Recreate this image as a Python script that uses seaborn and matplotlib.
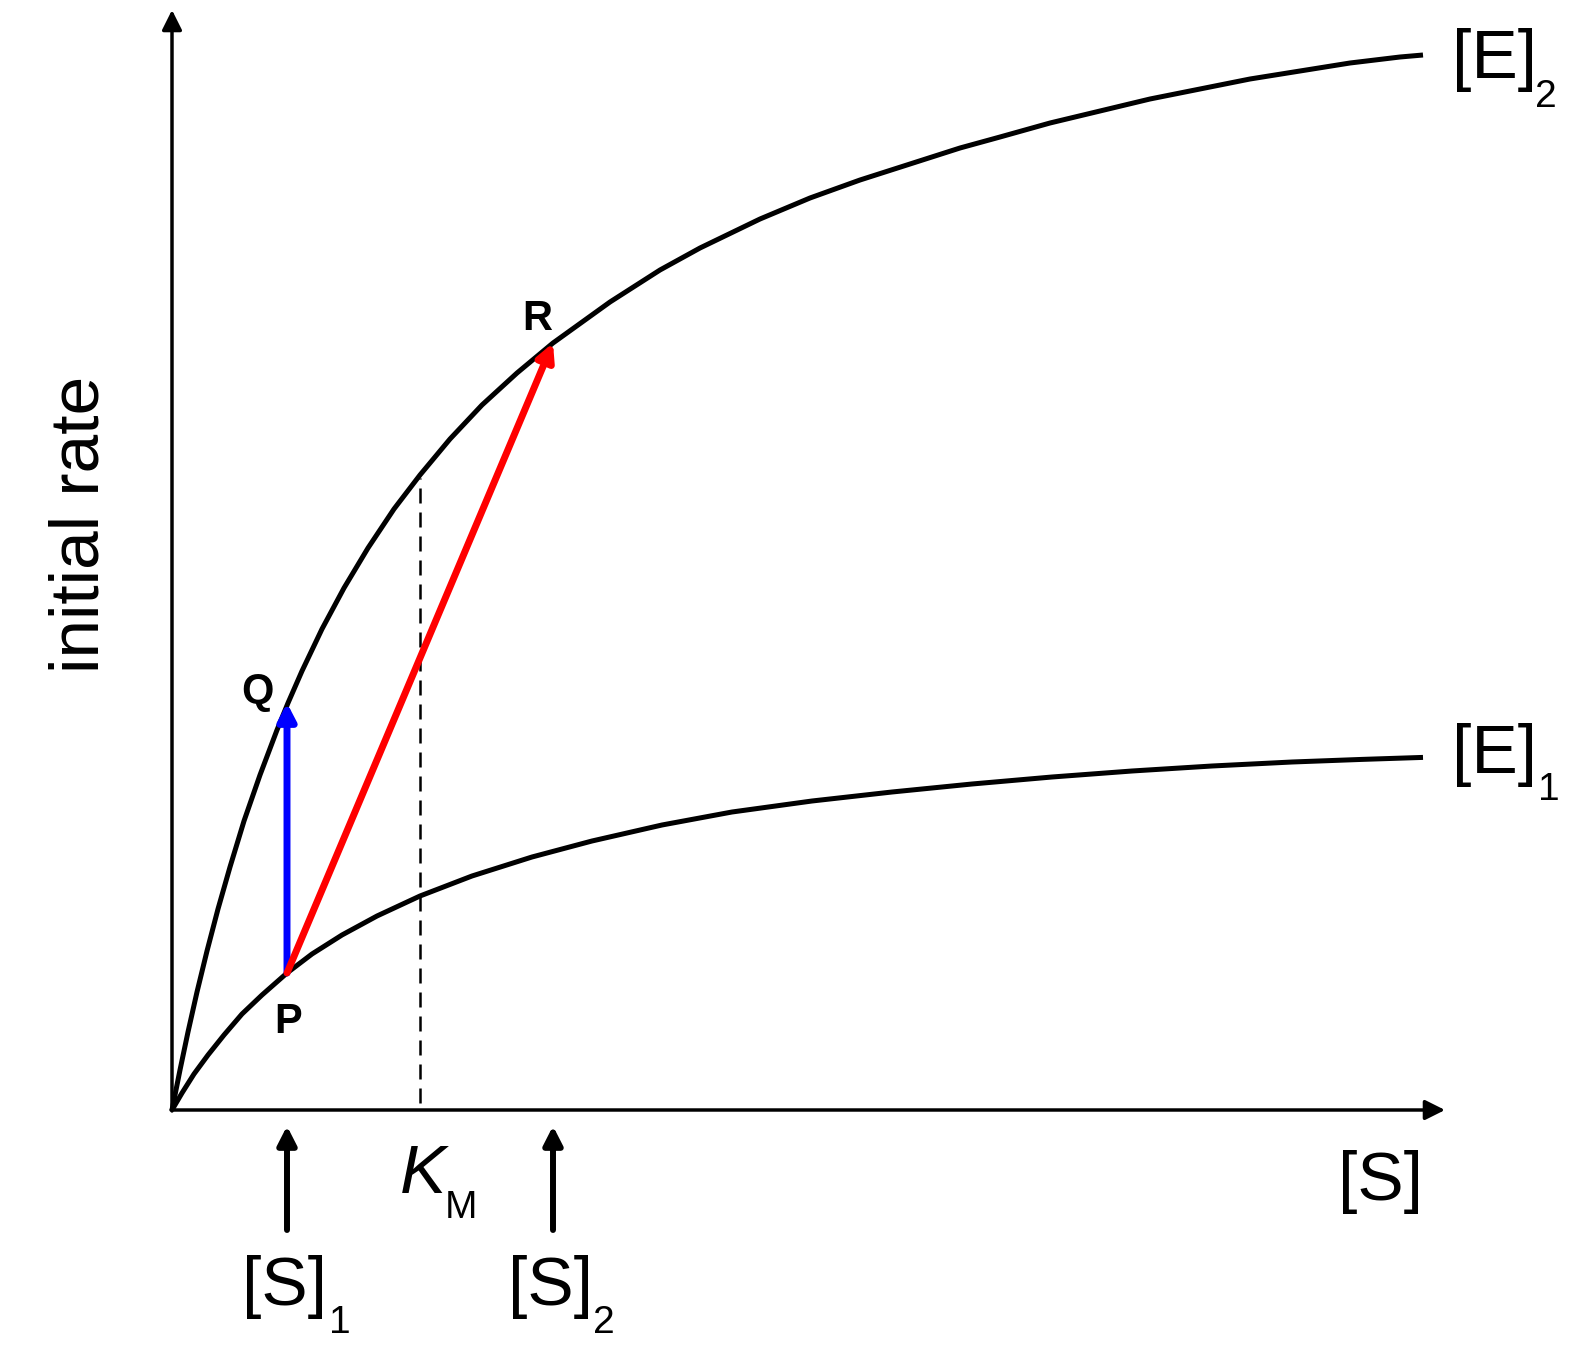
import numpy as np
import pandas as pd
import matplotlib
matplotlib.use('Agg')
import matplotlib.pyplot as plt
import seaborn as sns

# 讀值 (單位: 參考圖上的像素, 原點在兩軸交點)
e2_s = [0, 8, 16, 25, 35, 46, 58, 72, 88, 105, 116, 130, 150, 172, 196, 222, 248,
        278, 310, 345, 381, 438, 488, 528, 588, 638, 688, 738, 788, 828, 878, 928,
        978, 1028, 1078, 1128, 1178, 1228, 1251]
e2_v = [0, 40, 78, 118, 159, 201, 243, 289, 335, 380, 407, 439, 481, 522, 562, 601, 635,
        671, 705, 737, 767, 808, 840, 862, 891, 912, 930, 946, 962, 973, 987, 999,
        1011, 1021, 1031, 1039, 1047, 1053, 1055]

e1_s = [0, 10, 22, 36, 52, 70, 90, 115, 140, 170, 205, 248, 300, 360, 420, 490,
        560, 640, 720, 800, 880, 960, 1040, 1120, 1190, 1251]
e1_v = [0, 17, 36, 55, 75, 96, 115, 137, 156, 175, 194, 214, 234, 253, 269, 285,
        298, 309, 318, 326, 333, 339, 344, 348, 350.6, 352.6]

s1 = 115      # [S]1
s2 = 381      # [S]2
km = 248      # K_M
v_p = 137     # P  (E1 at s1)
v_q = 407     # Q  (E2 at s1)
v_r = 767     # R  (E2 at s2)
km_top = 632  # E2 at K_M

df = pd.DataFrame({
    's': e2_s + e1_s,
    'v': e2_v + e1_v,
    'curve': ['E2'] * len(e2_s) + ['E1'] * len(e1_s),
})

sns.set_style('white')
plt.rcParams['font.family'] = ['Liberation Sans', 'DejaVu Sans']
plt.rcParams['text.color'] = 'black'

fig = plt.figure(figsize=(15.85, 13.67), dpi=100)
ax = fig.add_axes([0, 0, 1, 1])

# 曲線
sns.lineplot(data=df, x='s', y='v', units='curve', estimator=None, sort=False,
             color='black', linewidth=3.6, solid_capstyle='butt',
             solid_joinstyle='round', ax=ax, zorder=2)

# 座標軸 (箭頭)
axis_arrow = dict(arrowstyle='-|>,head_length=0.6,head_width=0.3', color='black',
                  lw=2.5, shrinkA=0, shrinkB=0, mutation_scale=20)
ax.annotate('', xy=(0, 1100), xytext=(0, -1), arrowprops=axis_arrow)
ax.annotate('', xy=(1273, 0), xytext=(-1, 0), arrowprops=axis_arrow)

# K_M 虛線
ax.plot([km, km], [7, km_top], color='black', lw=1.8,
        linestyle=(0, (6, 3.6)), zorder=1)

# P -> Q, P -> R
ab = dict(arrowstyle='-|>,head_length=0.5,head_width=0.26', lw=5,
          shrinkA=0, shrinkB=0, mutation_scale=20)
ax.annotate('', xy=(s1, v_q), xytext=(s1, v_p),
            arrowprops=dict(ab, color='#0000ff'), zorder=3)
ax.annotate('', xy=(s2, v_r), xytext=(s1, v_p),
            arrowprops=dict(ab, color='#ff0000'), zorder=4)

# [S]1, [S]2 下方箭頭
ua = dict(arrowstyle='-|>,head_length=0.55,head_width=0.28', color='black',
          lw=4.3, shrinkA=0, shrinkB=0, mutation_scale=20)
for s in [s1, s2]:
    ax.annotate('', xy=(s, -16), xytext=(s, -120), arrowprops=ua)

# 文字
fs, fsub, fpt = 50, 28, 30
ax.text(-92, 586, 'initial rate', rotation=90, ha='center', va='center', fontsize=fs)
ax.text(1166, -90, '[S]', ha='left', va='baseline', fontsize=fs)
ax.text(1280, 1032, '[E]', ha='left', va='baseline', fontsize=fs)
ax.text(1363, 1003, '2', ha='left', va='baseline', fontsize=fsub)
ax.text(1280, 337, '[E]', ha='left', va='baseline', fontsize=fs)
ax.text(1366, 310, '1', ha='left', va='baseline', fontsize=fsub)
ax.text(70, -195, '[S]', ha='left', va='baseline', fontsize=fs)
ax.text(157, -223, '1', ha='left', va='baseline', fontsize=fsub)
ax.text(336, -195, '[S]', ha='left', va='baseline', fontsize=fs)
ax.text(421, -223, '2', ha='left', va='baseline', fontsize=fsub)
ax.text(228, -83, 'K', ha='left', va='baseline', fontsize=fs, fontstyle='italic')
ax.text(273, -108, 'M', ha='left', va='baseline', fontsize=fsub)

ax.text(116, 77, 'P', ha='center', va='baseline', fontsize=fpt, fontweight='bold')
ax.text(85, 407, 'Q', ha='center', va='baseline', fontsize=fpt, fontweight='bold')
ax.text(365, 780, 'R', ha='center', va='baseline', fontsize=fpt, fontweight='bold')

ax.set_xlim(-172, 1413)
ax.set_ylim(-257, 1110)
ax.axis('off')
if ax.get_legend() is not None:
    ax.get_legend().remove()

fig.savefig('out.png', dpi=100, facecolor='white')
